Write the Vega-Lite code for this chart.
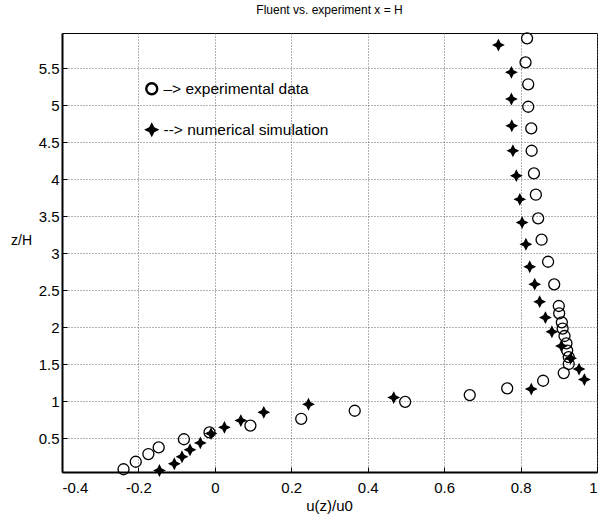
{
  "$schema": "https://vega.github.io/schema/vega-lite/v6.json",
  "width": 535,
  "height": 439,
  "autosize": {"type": "none"},
  "padding": {"left": 62, "top": 33, "right": 2, "bottom": 46},
  "background": "white",
  "title": {"text": "Fluent vs. experiment x = H", "font": "Liberation Sans", "fontSize": 12, "fontWeight": "normal", "color": "black", "offset": 13, "anchor": "middle"},
  "config": {"view": {"stroke": "black", "strokeWidth": 1}, "font": "Liberation Sans",
    "legend": {"orient": "none", "legendX": 82, "legendY": 48, "title": null, "padding": 0,
        "labelFont": "Liberation Sans", "labelFontSize": 15.5, "labelColor": "black", "labelOffset": 4, "labelLimit": 400,
        "symbolSize": 120, "symbolStrokeWidth": 2.4, "rowPadding": 20}},
  "data": {"values": [
    {"series": "experimental data", "u": 0.817, "z": 5.908},
    {"series": "experimental data", "u": 0.813, "z": 5.583},
    {"series": "experimental data", "u": 0.820, "z": 5.286},
    {"series": "experimental data", "u": 0.820, "z": 4.982},
    {"series": "experimental data", "u": 0.828, "z": 4.690},
    {"series": "experimental data", "u": 0.829, "z": 4.387},
    {"series": "experimental data", "u": 0.835, "z": 4.081},
    {"series": "experimental data", "u": 0.840, "z": 3.792},
    {"series": "experimental data", "u": 0.846, "z": 3.472},
    {"series": "experimental data", "u": 0.855, "z": 3.183},
    {"series": "experimental data", "u": 0.872, "z": 2.885},
    {"series": "experimental data", "u": 0.888, "z": 2.579},
    {"series": "experimental data", "u": 0.900, "z": 2.286},
    {"series": "experimental data", "u": 0.901, "z": 2.187},
    {"series": "experimental data", "u": 0.908, "z": 2.065},
    {"series": "experimental data", "u": 0.910, "z": 1.981},
    {"series": "experimental data", "u": 0.915, "z": 1.880},
    {"series": "experimental data", "u": 0.920, "z": 1.781},
    {"series": "experimental data", "u": 0.922, "z": 1.683},
    {"series": "experimental data", "u": 0.926, "z": 1.595},
    {"series": "experimental data", "u": 0.926, "z": 1.501},
    {"series": "experimental data", "u": 0.913, "z": 1.379},
    {"series": "experimental data", "u": 0.859, "z": 1.275},
    {"series": "experimental data", "u": 0.765, "z": 1.172},
    {"series": "experimental data", "u": 0.667, "z": 1.081},
    {"series": "experimental data", "u": 0.498, "z": 0.989},
    {"series": "experimental data", "u": 0.366, "z": 0.869},
    {"series": "experimental data", "u": 0.226, "z": 0.760},
    {"series": "experimental data", "u": 0.093, "z": 0.668},
    {"series": "experimental data", "u": -0.014, "z": 0.576},
    {"series": "experimental data", "u": -0.081, "z": 0.483},
    {"series": "experimental data", "u": -0.147, "z": 0.373},
    {"series": "experimental data", "u": -0.174, "z": 0.283},
    {"series": "experimental data", "u": -0.207, "z": 0.179},
    {"series": "experimental data", "u": -0.239, "z": 0.077},
    {"series": "numerical simulation", "u": 0.742, "z": 5.817},
    {"series": "numerical simulation", "u": 0.776, "z": 5.448},
    {"series": "numerical simulation", "u": 0.776, "z": 5.087},
    {"series": "numerical simulation", "u": 0.777, "z": 4.725},
    {"series": "numerical simulation", "u": 0.780, "z": 4.387},
    {"series": "numerical simulation", "u": 0.789, "z": 4.049},
    {"series": "numerical simulation", "u": 0.798, "z": 3.729},
    {"series": "numerical simulation", "u": 0.804, "z": 3.415},
    {"series": "numerical simulation", "u": 0.814, "z": 3.122},
    {"series": "numerical simulation", "u": 0.824, "z": 2.817},
    {"series": "numerical simulation", "u": 0.837, "z": 2.581},
    {"series": "numerical simulation", "u": 0.850, "z": 2.344},
    {"series": "numerical simulation", "u": 0.865, "z": 2.130},
    {"series": "numerical simulation", "u": 0.882, "z": 1.938},
    {"series": "numerical simulation", "u": 0.907, "z": 1.744},
    {"series": "numerical simulation", "u": 0.931, "z": 1.578},
    {"series": "numerical simulation", "u": 0.953, "z": 1.433},
    {"series": "numerical simulation", "u": 0.967, "z": 1.291},
    {"series": "numerical simulation", "u": 0.828, "z": 1.162},
    {"series": "numerical simulation", "u": 0.468, "z": 1.047},
    {"series": "numerical simulation", "u": 0.245, "z": 0.957},
    {"series": "numerical simulation", "u": 0.128, "z": 0.848},
    {"series": "numerical simulation", "u": 0.068, "z": 0.736},
    {"series": "numerical simulation", "u": 0.025, "z": 0.644},
    {"series": "numerical simulation", "u": -0.010, "z": 0.560},
    {"series": "numerical simulation", "u": -0.038, "z": 0.434},
    {"series": "numerical simulation", "u": -0.065, "z": 0.341},
    {"series": "numerical simulation", "u": -0.086, "z": 0.246},
    {"series": "numerical simulation", "u": -0.106, "z": 0.152},
    {"series": "numerical simulation", "u": -0.145, "z": 0.060}
  ]},
  "mark": {"type": "point", "filled": true, "size": 121, "strokeWidth": 1.3, "opacity": 1, "clip": false},
  "encoding": {
    "x": {
      "field": "u", "type": "quantitative",
      "scale": {"domain": [-0.4, 1], "nice": false, "zero": false},
      "axis": {
        "values": [-0.4, -0.2, 0, 0.2, 0.4, 0.6, 0.8, 1],
        "format": "~g",
        "labelExpr": "replace(datum.label, '−', '-')",
        "labelFont": "Liberation Sans", "labelFontSize": 15, "labelColor": "black",
        "labelPadding": 13,
        "grid": true, "gridDash": [1, 2], "gridColor": "#666", "gridWidth": 1,
        "domainColor": "black", "domainWidth": 2,
        "ticks": true, "tickSize": -5, "tickColor": "black",
        "title": "u(z)/u0", "titleFont": "Liberation Sans", "titleFontSize": 15, "titleFontWeight": "normal", "titleColor": "black",
        "titleX": 267, "titleY": 38, "titleBaseline": "alphabetic", "titleAlign": "center"
      }
    },
    "y": {
      "field": "z", "type": "quantitative",
      "scale": {"domain": [0.04, 5.98], "nice": false, "zero": false},
      "axis": {
        "values": [0.5, 1, 1.5, 2, 2.5, 3, 3.5, 4, 4.5, 5, 5.5],
        "format": "~g",
        "labelFont": "Liberation Sans", "labelFontSize": 15, "labelColor": "black",
        "labelPadding": 8,
        "grid": true, "gridDash": [1, 2], "gridColor": "#666", "gridWidth": 1,
        "domainColor": "black", "domainWidth": 2,
        "ticks": true, "tickSize": -5, "tickColor": "black",
        "title": "z/H", "titleFont": "Liberation Sans", "titleFontSize": 14, "titleFontWeight": "normal", "titleColor": "black",
        "titleAngle": 0, "titleX": -41, "titleY": 207, "titleAlign": "center", "titleBaseline": "middle"
      }
    },
    "shape": {
      "field": "series", "type": "nominal",
      "scale": {"domain": ["experimental data", "numerical simulation"], "range": ["circle", "M0,-0.9L0.3,-0.3L0.9,0L0.3,0.3L0,0.9L-0.3,0.3L-0.9,0L-0.3,-0.3Z"]},
      "legend": {"labelExpr": "datum.label == 'experimental data' ? '–> experimental data' : '--> numerical simulation'"}
    },
    "fill": {
      "field": "series", "type": "nominal",
      "scale": {"domain": ["experimental data", "numerical simulation"], "range": ["transparent", "black"]},
      "legend": {"labelExpr": "datum.label == 'experimental data' ? '–> experimental data' : '--> numerical simulation'"}
    },
    "stroke": {
      "field": "series", "type": "nominal",
      "scale": {"domain": ["experimental data", "numerical simulation"], "range": ["black", "black"]},
      "legend": {"labelExpr": "datum.label == 'experimental data' ? '–> experimental data' : '--> numerical simulation'"}
    }
  }
}
